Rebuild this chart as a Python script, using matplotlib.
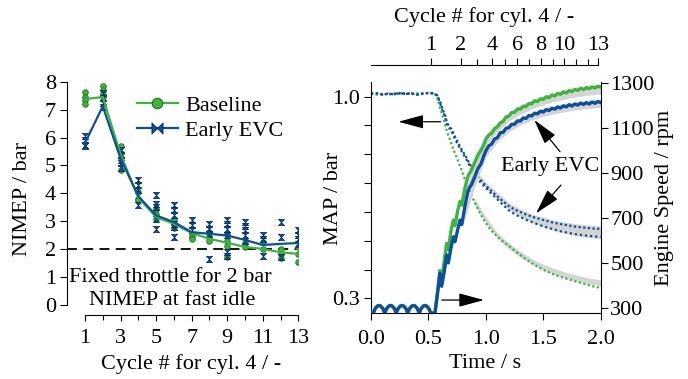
import matplotlib
matplotlib.use('Agg')
import matplotlib.pyplot as plt
from matplotlib.path import Path
from matplotlib.lines import Line2D
from matplotlib.ticker import FixedLocator, NullFormatter

plt.rcParams['font.family'] = ['Liberation Serif', 'DejaVu Serif']
FS = 16

GREEN = '#3db53d'
GREEN_E = '#1f6f1f'
BLUE = '#0b4f9e'
BLUE_E = '#062a55'
GRAY = '#d4d4d4'

# ---------------- Left panel data ----------------
cycles = [1, 2, 3, 4, 5, 6, 7, 8, 9, 10, 11, 12, 13]
nimep_base_mean = [7.38, 7.45, 5.40, 3.85, 3.15, 2.91, 2.58, 2.37, 2.23, 2.08, 2.01, 1.89, 1.83]
nimep_evc_mean = [5.80, 7.12, 5.25, 3.90, 3.21, 2.97, 2.61, 2.55, 2.49, 2.33, 2.15, 2.19, 2.22]
nimep_base_runs = [
    [7.63, 7.45, 7.36, 7.21], [7.85, 7.70, 7.55, 7.45], [5.68, 5.44, 5.26, 4.84],
    [4.06, 3.81, 3.75], [3.43, 3.27, 3.09], [3.09, 2.91, 2.76], [2.55, 2.45, 2.37],
    [2.61, 2.43, 2.31], [2.55, 2.31, 2.11, 1.71], [2.23, 2.07], [2.27, 2.01],
    [2.01, 1.83, 1.67], [2.07, 1.83, 1.53]]
nimep_evc_runs = [
    [6.04, 5.90, 5.75, 5.68], [7.60, 7.42, 7.24, 7.10], [5.56, 5.38, 5.20, 5.08, 4.90],
    [4.48, 4.30, 4.12, 3.57], [3.93, 3.63, 3.51, 3.09, 2.73], [3.57, 3.39, 3.21, 2.91, 2.79, 2.43],
    [3.03, 2.85, 2.67], [2.91, 2.73, 2.55, 1.65], [3.03, 2.91, 2.73, 2.49, 1.89, 1.74],
    [2.97, 2.83, 2.67, 2.49, 2.31], [2.49, 2.35, 1.74], [2.97, 2.43, 1.71], [2.67, 2.49, 2.35, 2.19]]
nimep_target = 2.0

# ---------------- Right panel data ----------------
cycle_times = [0.522, 0.781, 0.926, 1.056, 1.167, 1.274, 1.378, 1.480, 1.582, 1.680, 1.785, 1.887, 1.974]
top_labels = {1: '1', 2: '2', 4: '4', 6: '6', 8: '8', 10: '10', 13: '13'}

speed_t = [0.0, 0.02, 0.035, 0.055, 0.07, 0.085, 0.105, 0.12, 0.135, 0.155, 0.17, 0.185, 0.205,
           0.22, 0.235, 0.255, 0.27, 0.285, 0.305, 0.32, 0.335, 0.355, 0.37, 0.385, 0.405,
           0.42, 0.435, 0.455, 0.47, 0.485, 0.505, 0.52, 0.557,
           0.58, 0.60, 0.615, 0.64, 0.659, 0.673, 0.695, 0.717, 0.731, 0.755, 0.775, 0.79,
           0.82, 0.847, 0.875, 0.90, 0.93, 0.96, 0.98,
           1.0, 1.025, 1.05, 1.075, 1.1, 1.125, 1.15, 1.175, 1.2, 1.225, 1.25, 1.275, 1.3,
           1.325, 1.35, 1.375, 1.4, 1.425, 1.45, 1.475, 1.5, 1.525, 1.55, 1.575, 1.6, 1.625,
           1.65, 1.675, 1.7, 1.725, 1.75, 1.775, 1.8, 1.825, 1.85, 1.875, 1.9, 1.925, 1.95,
           1.975, 2.0]
speed_base = [280, 279, 298, 310, 313, 310, 298, 279, 298, 310, 313, 310, 298,
              279, 298, 310, 313, 310, 298, 279, 298, 310, 313, 310, 298,
              279, 298, 310, 313, 310, 298, 279, 279,
              375, 468, 420, 520, 589, 560, 640, 692, 668, 735, 775, 758,
              840, 890, 915, 945, 980, 1005, 1025,
              1052, 1070, 1078, 1098, 1106, 1124, 1130, 1150, 1154, 1170, 1171, 1186, 1185,
              1198, 1196, 1210, 1209, 1222, 1219, 1231, 1228, 1240, 1236, 1248, 1244, 1255,
              1251, 1262, 1257, 1268, 1263, 1273, 1268, 1278, 1272, 1281, 1276, 1284, 1279,
              1287, 1283]
speed_evc = [280, 279, 298, 310, 313, 310, 298, 279, 298, 310, 313, 310, 298,
             279, 298, 310, 313, 310, 298, 279, 298, 310, 313, 310, 298,
             279, 298, 310, 313, 310, 298, 279, 279,
             370, 455, 398, 470, 537, 502, 565, 618, 596, 650, 692, 672,
             760, 826, 850, 880, 920, 945, 975,
             1000, 1022, 1030, 1052, 1058, 1080, 1082, 1100, 1103, 1118, 1118, 1133, 1132,
             1146, 1144, 1157, 1155, 1167, 1164, 1176, 1172, 1183, 1179, 1189, 1185, 1195,
             1190, 1200, 1195, 1205, 1199, 1208, 1203, 1212, 1206, 1214, 1208, 1217, 1211,
             1219, 1214]

gray_t = [0.8, 0.9, 1.0, 1.1, 1.2, 1.3, 1.4, 1.5, 1.6, 1.7, 1.8, 1.9, 2.0]
speed_base_hi = [785, 950, 1065, 1125, 1170, 1202, 1226, 1243, 1258, 1270, 1280, 1288, 1295]
speed_base_lo = [740, 900, 1025, 1085, 1132, 1162, 1187, 1205, 1219, 1231, 1241, 1248, 1253]
speed_evc_hi = [715, 875, 1000, 1070, 1116, 1146, 1170, 1188, 1200, 1210, 1218, 1224, 1230]
speed_evc_lo = [670, 835, 972, 1040, 1084, 1114, 1137, 1153, 1165, 1175, 1183, 1189, 1193]

map_t_base = [0.0, 0.05, 0.10, 0.15, 0.20, 0.25, 0.30, 0.35, 0.40, 0.45, 0.50, 0.55,
              0.575, 0.60, 0.63, 0.66, 0.69, 0.72, 0.75, 0.78, 0.81, 0.84, 0.87, 0.90, 0.94,
              0.98, 1.02, 1.065, 1.10, 1.15, 1.21, 1.28, 1.356, 1.43, 1.50, 1.575, 1.646,
              1.72, 1.79, 1.87, 1.94, 2.0]
map_base = [1.012, 1.007, 1.011, 1.006, 1.012, 1.009, 1.014, 1.008, 1.012, 1.009, 1.013, 1.012,
            1.000, 0.960, 0.925, 0.880, 0.848, 0.815, 0.785, 0.755, 0.722, 0.690, 0.662, 0.636, 0.603,
            0.574, 0.550, 0.528, 0.514, 0.497, 0.479, 0.456, 0.434, 0.415, 0.399, 0.386, 0.375,
            0.366, 0.358, 0.349, 0.341, 0.336]
map_t_evc = [0.0, 0.05, 0.10, 0.15, 0.20, 0.25, 0.30, 0.35, 0.40, 0.45, 0.50, 0.55,
             0.575, 0.60, 0.615, 0.63, 0.645, 0.66, 0.68, 0.70, 0.717, 0.745, 0.775, 0.80,
             0.833, 0.86, 0.891, 0.93, 0.978, 1.02, 1.065, 1.13, 1.21, 1.28, 1.356, 1.43,
             1.50, 1.575, 1.646, 1.72, 1.79, 1.87, 1.94, 2.0]
map_evc_a = [1.010, 1.012, 1.007, 1.011, 1.008, 1.013, 1.009, 1.012, 1.007, 1.011, 1.013, 1.011,
             1.005, 0.985, 0.968, 0.950, 0.938, 0.912, 0.897, 0.888, 0.873, 0.851, 0.827, 0.810,
             0.787, 0.766, 0.746, 0.722, 0.700, 0.683, 0.666, 0.643, 0.617, 0.603, 0.590, 0.580,
             0.572, 0.564, 0.558, 0.553, 0.548, 0.545, 0.542, 0.541]
map_evc_b = [1.010, 1.012, 1.007, 1.011, 1.008, 1.013, 1.009, 1.012, 1.007, 1.011, 1.013, 1.011,
             1.005, 0.980, 0.960, 0.945, 0.930, 0.905, 0.892, 0.880, 0.866, 0.842, 0.820, 0.803,
             0.780, 0.760, 0.738, 0.714, 0.692, 0.675, 0.657, 0.632, 0.602, 0.586, 0.572, 0.560,
             0.550, 0.541, 0.533, 0.527, 0.522, 0.518, 0.515, 0.513]
map_gray_t = [0.9, 1.0, 1.1, 1.2, 1.3, 1.4, 1.5, 1.6, 1.7, 1.8, 1.9, 2.0]
map_base_hi = [0.648, 0.583, 0.528, 0.492, 0.463, 0.438, 0.418, 0.403, 0.390, 0.380, 0.370, 0.364]
map_base_lo = [0.628, 0.563, 0.508, 0.472, 0.443, 0.418, 0.399, 0.383, 0.370, 0.359, 0.350, 0.343]
map_evc_hi = [0.750, 0.703, 0.668, 0.632, 0.610, 0.593, 0.581, 0.571, 0.564, 0.558, 0.554, 0.551]
map_evc_lo = [0.732, 0.683, 0.648, 0.608, 0.583, 0.563, 0.548, 0.535, 0.525, 0.517, 0.511, 0.506]

# ---------------- Figure ----------------
W, H = 688, 379
fig = plt.figure(figsize=(W / 100, H / 100), dpi=100)


def fx(px):
    return px / W


def fy(py):
    return 1 - py / H


hourglass = Path([(-1, 1), (1, 1), (-1, -1), (1, -1), (-1, 1)],
                 [Path.MOVETO, Path.LINETO, Path.LINETO, Path.LINETO, Path.CLOSEPOLY])
bowtie = Path([(-1, -1), (-1, 1), (1, -1), (1, 1), (-1, -1)],
              [Path.MOVETO, Path.LINETO, Path.LINETO, Path.LINETO, Path.CLOSEPOLY])

# ---- left axes
ax1 = fig.add_axes([fx(67.2), fy(305), fx(298.3 - 67.2), (305 - 81.7) / H])
ax1.set_xlim(0, 13)
ax1.set_ylim(0, 8)
ax1.axhline(nimep_target, color='black', lw=1.3, dashes=(5.5, 3.5), zorder=1)
for c, vals in zip(cycles, nimep_base_runs):
    ax1.plot([c] * len(vals), vals, ls='none', marker='o', ms=4, mfc=GREEN,
             mec=GREEN_E, mew=0.6, zorder=2)
for c, vals in zip(cycles, nimep_evc_runs):
    ax1.plot([c] * len(vals), vals, ls='none', marker=hourglass, ms=4.5, mfc=BLUE,
             mec=BLUE_E, mew=0.5, zorder=2)
ax1.plot(cycles, nimep_base_mean, color=GREEN, lw=1.6, zorder=3)
ax1.plot(cycles, nimep_evc_mean, color=BLUE, lw=1.6, zorder=3)

for s in ['top', 'right']:
    ax1.spines[s].set_visible(False)
ax1.spines['bottom'].set_position(('outward', 7))
ax1.spines['bottom'].set_bounds(1, 13)
ax1.set_xticks([1, 3, 5, 7, 9, 11, 13])
ax1.set_xticks([2, 4, 6, 8, 10, 12], minor=True)
ax1.set_yticks(range(0, 9))
ax1.tick_params(axis='both', which='major', labelsize=FS, width=0.8, direction='out')
ax1.tick_params(axis='y', length=5, pad=3)
ax1.tick_params(axis='x', which='major', length=4.5, pad=6)
ax1.tick_params(axis='x', which='minor', length=3.5, width=0.8)
for s in ax1.spines.values():
    s.set_linewidth(0.8)

ax1.text(5.78, 1.0, 'Fixed throttle for 2 bar', ha='center', va='center', fontsize=FS)
ax1.text(5.88, 0.17, 'NIMEP at fast idle', ha='center', va='center', fontsize=FS)

leg_handles = [Line2D([], [], color=GREEN, lw=1.6, marker='o', ms=7.5, mfc=GREEN, mec=GREEN_E, mew=0.8),
               Line2D([], [], color=BLUE, lw=1.6, marker=bowtie, ms=8, mfc=BLUE, mec=BLUE_E, mew=0.6)]
ax1.legend(leg_handles, ['Baseline', 'Early EVC'], loc='upper left', bbox_to_anchor=(0.30, 0.94),
           frameon=False, fontsize=FS, handlelength=1.85, handletextpad=0.35, labelspacing=0.2,
           borderpad=0, borderaxespad=0)

fig.text(fx(22.5), fy(198.5), 'NIMEP / bar', rotation=90, ha='center', va='center', fontsize=FS)
fig.text(fx(191), fy(364), 'Cycle # for cyl. 4 / -', ha='center', va='center', fontsize=FS)

# ---- right axes
ax2 = fig.add_axes([fx(371), fy(313.3), fx(600.7 - 371), (313.3 - 81.7) / H])
ax2.set_xlim(0, 2)
ax2.set_ylim(0.248, 1.052)
ax3 = ax2.twinx()
ax3.set_ylim(278, 1307)
ax4 = ax2.twiny()
ax4.set_xlim(0, 2)

ax2.fill_between(map_gray_t, map_base_lo, map_base_hi, color=GRAY, lw=0, zorder=1)
ax2.fill_between(map_gray_t, map_evc_lo, map_evc_hi, color=GRAY, lw=0, zorder=1)
ax2.plot(map_t_base, map_base, color=GREEN, lw=1.6, ls=(0, (1, 1.1)), zorder=2)
ax2.plot(map_t_evc, map_evc_a, color=BLUE, lw=1.6, ls=(0, (1, 1.1)), zorder=2)
ax2.plot(map_t_evc, map_evc_b, color=BLUE, lw=1.6, ls=(0, (1, 1.3)), zorder=2)

ax3.fill_between(gray_t, speed_base_lo, speed_base_hi, color=GRAY, lw=0, zorder=1)
ax3.fill_between(gray_t, speed_evc_lo, speed_evc_hi, color=GRAY, lw=0, zorder=1)
ax3.plot(speed_t, speed_base, color=GREEN, lw=2.4, zorder=2)
ax3.plot(speed_t, speed_evc, color=BLUE, lw=2.4, zorder=2)

for s in ['top', 'right']:
    ax2.spines[s].set_visible(False)
for s in ['top', 'left', 'bottom']:
    ax3.spines[s].set_visible(False)
for s in ['left', 'right', 'bottom']:
    ax4.spines[s].set_visible(False)
for a in (ax2, ax3, ax4):
    for s in a.spines.values():
        s.set_linewidth(0.8)

ax2.set_xticks([0.0, 0.5, 1.0, 1.5, 2.0])
ax2.set_xticklabels(['0.0', '0.5', '1.0', '1.5', '2.0'])
ax2.set_yticks([0.3, 1.0])
ax2.set_yticklabels(['0.3', '1.0'])
ax2.yaxis.set_minor_locator(FixedLocator([0.4, 0.5, 0.6, 0.7, 0.8, 0.9]))
ax2.yaxis.set_minor_formatter(NullFormatter())
ax2.xaxis.set_minor_locator(FixedLocator([]))
ax2.tick_params(axis='both', which='both', labelsize=FS, width=0.8, length=5, direction='out', pad=3)
ax2.tick_params(axis='x', pad=7)

ax3.set_yticks([300, 500, 700, 900, 1100, 1300])
ax3.tick_params(axis='y', labelsize=FS, width=0.8, length=5, direction='out', pad=2)

ax4.spines['top'].set_position(('outward', 12))
ax4.spines['top'].set_bounds(0, cycle_times[-1])
maj = [cycle_times[c - 1] for c in cycles if c in top_labels]
mino = [cycle_times[c - 1] for c in cycles if c not in top_labels]
ax4.set_xticks(maj)
ax4.set_xticklabels([top_labels[c] for c in cycles if c in top_labels])
ax4.xaxis.set_minor_locator(FixedLocator(mino))
ax4.tick_params(axis='x', which='major', labelsize=FS, width=0.8, length=5, direction='out', pad=2)
ax4.tick_params(axis='x', which='minor', width=0.8, length=4, direction='out')

arrow_kw = dict(arrowstyle='-|>,head_length=1.3,head_width=0.35', color='black', lw=0.9,
                mutation_scale=12, shrinkA=0, shrinkB=0)
ax4.annotate('', xy=(0.238, 0.913), xytext=(0.607, 0.913), xycoords=ax2.transData,
             textcoords=ax2.transData, arrowprops=arrow_kw)
ax4.annotate('', xy=(0.984, 0.294), xytext=(0.616, 0.294), xycoords=ax2.transData,
             textcoords=ax2.transData, arrowprops=arrow_kw)
ax4.annotate('', xy=(1.422, 0.919), xytext=(1.646, 0.809), xycoords=ax2.transData,
             textcoords=ax2.transData, arrowprops=arrow_kw)
ax4.annotate('', xy=(1.437, 0.595), xytext=(1.654, 0.693), xycoords=ax2.transData,
             textcoords=ax2.transData, arrowprops=arrow_kw)
ax4.text(1.559, 0.757, 'Early EVC', transform=ax2.transData, ha='center', va='center', fontsize=FS)

fig.text(fx(333), fy(198), 'MAP / bar', rotation=90, ha='center', va='center', fontsize=FS)
fig.text(fx(665), fy(198.3), 'Engine Speed / rpm', rotation=90, ha='center', va='center', fontsize=FS)
fig.text(fx(485), fy(364), 'Time / s', ha='center', va='center', fontsize=FS)
fig.text(fx(484), fy(16.7), 'Cycle # for cyl. 4 / -', ha='center', va='center', fontsize=FS)

fig.savefig('out.png', dpi=100)
